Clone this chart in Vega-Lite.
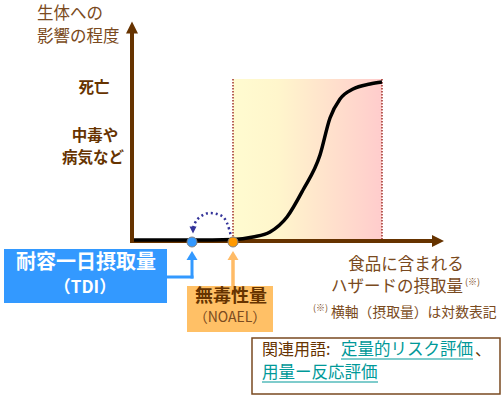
{
  "$schema": "https://vega.github.io/schema/vega-lite/v6.json",
  "width": 501,
  "height": 397,
  "padding": 0,
  "autosize": {"type": "none"},
  "background": "white",
  "config": {"view": {"stroke": null}, "font": "Noto Sans CJK JP"},
  "layer": [
    {
      "data": {"values": [{"x": 233, "x2": 382, "y": 79, "y2": 241}]},
      "mark": {"type": "rect", "fill": {"gradient": "linear", "x1": 0, "y1": 0, "x2": 1, "y2": 0, "stops": [{"offset": 0, "color": "#fffbd0"}, {"offset": 0.3, "color": "#fff6cc"}, {"offset": 1, "color": "#ffcccc"}]}},
      "encoding": {
        "x": {"field": "x", "type": "quantitative", "scale": {"domain": [0, 501], "nice": false, "zero": false}, "axis": null},
        "x2": {"field": "x2"},
        "y": {"field": "y", "type": "quantitative", "scale": {"domain": [0, 397], "nice": false, "zero": false, "reverse": true}, "axis": null},
        "y2": {"field": "y2"}
      }
    },
    {
      "data": {"values": [{"x": 233, "y": 79, "y2": 241}, {"x": 382, "y": 79, "y2": 241}]},
      "mark": {"type": "rule", "color": "#a0302a", "strokeWidth": 1.5, "strokeDash": [1.5, 1.5]},
      "encoding": {"x": {"field": "x", "type": "quantitative"}, "y": {"field": "y", "type": "quantitative"}, "y2": {"field": "y2"}}
    },
    {
      "data": {"values": [{"x": 132, "x2": 132, "y": 32, "y2": 243}, {"x": 130, "x2": 434, "y": 241, "y2": 241}]},
      "mark": {"type": "rule", "color": "#663300", "strokeWidth": 4},
      "encoding": {"x": {"field": "x", "type": "quantitative"}, "x2": {"field": "x2"}, "y": {"field": "y", "type": "quantitative"}, "y2": {"field": "y2"}}
    },
    {
      "data": {"values": [{"x": 132, "y": 27.5}]},
      "mark": {"type": "point", "shape": "M -1 1 L 1 1 L 0 -1 Z", "size": 144, "filled": true, "color": "#663300", "opacity": 1},
      "encoding": {"x": {"field": "x", "type": "quantitative"}, "y": {"field": "y", "type": "quantitative"}}
    },
    {
      "data": {"values": [{"x": 438, "y": 241}]},
      "mark": {"type": "point", "shape": "M -1 -1 L 1 0 L -1 1 Z", "size": 144, "filled": true, "color": "#663300", "opacity": 1},
      "encoding": {"x": {"field": "x", "type": "quantitative"}, "y": {"field": "y", "type": "quantitative"}}
    },
    {
      "data": {"values": [
        {"x": 134, "y": 240}, {"x": 192, "y": 240}, {"x": 233, "y": 239.5}, {"x": 253, "y": 237}, {"x": 270, "y": 232},
        {"x": 287, "y": 217}, {"x": 303, "y": 190}, {"x": 320, "y": 155}, {"x": 330, "y": 118}, {"x": 340, "y": 99},
        {"x": 353, "y": 89}, {"x": 370, "y": 84}, {"x": 382, "y": 82}
      ]},
      "mark": {"type": "line", "color": "black", "strokeWidth": 3.5, "interpolate": "monotone"},
      "encoding": {"x": {"field": "x", "type": "quantitative"}, "y": {"field": "y", "type": "quantitative"}}
    },
    {
      "data": {"values": [
        {"x": 193, "y": 228}, {"x": 195, "y": 223}, {"x": 200, "y": 217}, {"x": 210, "y": 213}, {"x": 220, "y": 215}, {"x": 227, "y": 223}, {"x": 231, "y": 236}
      ]},
      "mark": {"type": "line", "color": "#333399", "strokeWidth": 2.5, "strokeDash": [2, 3], "interpolate": "monotone"},
      "encoding": {"x": {"field": "x", "type": "quantitative"}, "y": {"field": "y", "type": "quantitative"}}
    },
    {
      "data": {"values": [{"x": 193, "y": 230}]},
      "mark": {"type": "point", "shape": "M -1 -1 L 1 -1 L 0 1 Z", "size": 49, "filled": true, "color": "#333399", "opacity": 1},
      "encoding": {"x": {"field": "x", "type": "quantitative"}, "y": {"field": "y", "type": "quantitative"}}
    },
    {
      "data": {"values": [{"x": 166, "x2": 192, "y": 277, "y2": 277}, {"x": 192, "x2": 192, "y": 277, "y2": 258}]},
      "mark": {"type": "rule", "color": "#3399ff", "strokeWidth": 3, "strokeCap": "square"},
      "encoding": {"x": {"field": "x", "type": "quantitative"}, "x2": {"field": "x2"}, "y": {"field": "y", "type": "quantitative"}, "y2": {"field": "y2"}}
    },
    {
      "data": {"values": [{"x": 233, "x2": 233, "y": 287, "y2": 258}]},
      "mark": {"type": "rule", "color": "#ffbb66", "strokeWidth": 3.5},
      "encoding": {"x": {"field": "x", "type": "quantitative"}, "x2": {"field": "x2"}, "y": {"field": "y", "type": "quantitative"}, "y2": {"field": "y2"}}
    },
    {
      "data": {"values": [{"x": 192, "y": 255.5}]},
      "mark": {"type": "point", "shape": "M -1 0.8 L 1 0.8 L 0 -0.8 Z", "size": 121, "filled": true, "color": "#3399ff", "opacity": 1},
      "encoding": {"x": {"field": "x", "type": "quantitative"}, "y": {"field": "y", "type": "quantitative"}}
    },
    {
      "data": {"values": [{"x": 233, "y": 255.5}]},
      "mark": {"type": "point", "shape": "M -1 0.8 L 1 0.8 L 0 -0.8 Z", "size": 121, "filled": true, "color": "#ffbb66", "opacity": 1},
      "encoding": {"x": {"field": "x", "type": "quantitative"}, "y": {"field": "y", "type": "quantitative"}}
    },
    {
      "data": {"values": [{"x": 192, "y": 242}]},
      "mark": {"type": "point", "shape": "circle", "size": 100, "filled": true, "fill": "#3399ff", "stroke": "#7f7f7f", "strokeWidth": 1, "opacity": 1},
      "encoding": {"x": {"field": "x", "type": "quantitative"}, "y": {"field": "y", "type": "quantitative"}}
    },
    {
      "data": {"values": [{"x": 233, "y": 242}]},
      "mark": {"type": "point", "shape": "circle", "size": 100, "filled": true, "fill": "#ff9900", "stroke": "#7f7f7f", "strokeWidth": 1, "opacity": 1},
      "encoding": {"x": {"field": "x", "type": "quantitative"}, "y": {"field": "y", "type": "quantitative"}}
    },
    {
      "data": {"values": [{"x": 4, "x2": 167, "y": 249, "y2": 303}]},
      "mark": {"type": "rect", "fill": "#3399ff"},
      "encoding": {"x": {"field": "x", "type": "quantitative"}, "x2": {"field": "x2"}, "y": {"field": "y", "type": "quantitative"}, "y2": {"field": "y2"}}
    },
    {
      "data": {"values": [{"x": 187, "x2": 273, "y": 286, "y2": 332}]},
      "mark": {"type": "rect", "fill": "#ffc066"},
      "encoding": {"x": {"field": "x", "type": "quantitative"}, "x2": {"field": "x2"}, "y": {"field": "y", "type": "quantitative"}, "y2": {"field": "y2"}}
    },
    {
      "data": {"values": [{"x": 252, "x2": 500, "y": 338, "y2": 394}]},
      "mark": {"type": "rect", "fill": "white", "stroke": "#7a4a20", "strokeWidth": 1.5},
      "encoding": {"x": {"field": "x", "type": "quantitative"}, "x2": {"field": "x2"}, "y": {"field": "y", "type": "quantitative"}, "y2": {"field": "y2"}}
    },
    {
      "data": {"values": [{"x": 37, "y": 14, "t": "生体への"}, {"x": 37, "y": 37, "t": "影響の程度"}]},
      "mark": {"type": "text", "align": "left", "baseline": "middle", "fontSize": 16.5, "color": "#7a4a20"},
      "encoding": {"x": {"field": "x", "type": "quantitative"}, "y": {"field": "y", "type": "quantitative"}, "text": {"field": "t"}}
    },
    {
      "data": {"values": [{"x": 94, "y": 88, "t": "死亡"}, {"x": 95, "y": 136, "t": "中毒や"}, {"x": 93, "y": 158, "t": "病気など"}]},
      "mark": {"type": "text", "align": "center", "baseline": "middle", "fontSize": 15.5, "fontWeight": "bold", "color": "#663300"},
      "encoding": {"x": {"field": "x", "type": "quantitative"}, "y": {"field": "y", "type": "quantitative"}, "text": {"field": "t"}}
    },
    {
      "data": {"values": [{"x": 406, "y": 265, "t": "食品に含まれる"}, {"x": 397, "y": 287, "t": "ハザードの摂取量"}]},
      "mark": {"type": "text", "align": "center", "baseline": "middle", "fontSize": 16.5, "color": "#7a4a20"},
      "encoding": {"x": {"field": "x", "type": "quantitative"}, "y": {"field": "y", "type": "quantitative"}, "text": {"field": "t"}}
    },
    {
      "data": {"values": [{"x": 465, "y": 282, "t": "(※)"}, {"x": 313, "y": 308, "t": "(※)"}]},
      "mark": {"type": "text", "align": "left", "baseline": "middle", "fontSize": 9, "color": "#7a4a20"},
      "encoding": {"x": {"field": "x", "type": "quantitative"}, "y": {"field": "y", "type": "quantitative"}, "text": {"field": "t"}}
    },
    {
      "data": {"values": [{"x": 331, "y": 313, "t": "横軸（摂取量）は対数表記"}]},
      "mark": {"type": "text", "align": "left", "baseline": "middle", "fontSize": 13.8, "color": "#7a4a20"},
      "encoding": {"x": {"field": "x", "type": "quantitative"}, "y": {"field": "y", "type": "quantitative"}, "text": {"field": "t"}}
    },
    {
      "data": {"values": [{"x": 86, "y": 263, "t": "耐容一日摂取量"}]},
      "mark": {"type": "text", "align": "center", "baseline": "middle", "fontSize": 20, "fontWeight": "bold", "color": "white"},
      "encoding": {"x": {"field": "x", "type": "quantitative"}, "y": {"field": "y", "type": "quantitative"}, "text": {"field": "t"}}
    },
    {
      "data": {"values": [{"x": 85, "y": 288, "t": "（TDI）"}]},
      "mark": {"type": "text", "align": "center", "baseline": "middle", "fontSize": 17, "fontWeight": "bold", "color": "white"},
      "encoding": {"x": {"field": "x", "type": "quantitative"}, "y": {"field": "y", "type": "quantitative"}, "text": {"field": "t"}}
    },
    {
      "data": {"values": [{"x": 231, "y": 297, "t": "無毒性量"}]},
      "mark": {"type": "text", "align": "center", "baseline": "middle", "fontSize": 18, "fontWeight": "bold", "color": "#663300"},
      "encoding": {"x": {"field": "x", "type": "quantitative"}, "y": {"field": "y", "type": "quantitative"}, "text": {"field": "t"}}
    },
    {
      "data": {"values": [{"x": 230, "y": 318, "t": "（NOAEL）"}]},
      "mark": {"type": "text", "align": "center", "baseline": "middle", "fontSize": 14, "color": "#7a4a20"},
      "encoding": {"x": {"field": "x", "type": "quantitative"}, "y": {"field": "y", "type": "quantitative"}, "text": {"field": "t"}}
    },
    {
      "data": {"values": [{"x": 262, "y": 350, "t": "関連用語:"}, {"x": 475, "y": 350, "t": "、"}]},
      "mark": {"type": "text", "align": "left", "baseline": "middle", "fontSize": 16, "color": "#663300"},
      "encoding": {"x": {"field": "x", "type": "quantitative"}, "y": {"field": "y", "type": "quantitative"}, "text": {"field": "t"}}
    },
    {
      "data": {"values": [{"x": 341, "y": 350, "t": "定量的リスク評価"}]},
      "mark": {"type": "text", "align": "left", "baseline": "middle", "fontSize": 16.5, "color": "#009999"},
      "encoding": {"x": {"field": "x", "type": "quantitative"}, "y": {"field": "y", "type": "quantitative"}, "text": {"field": "t"}}
    },
    {
      "data": {"values": [{"x": 262, "y": 373, "t": "用量ー反応評価"}]},
      "mark": {"type": "text", "align": "left", "baseline": "middle", "fontSize": 16.5, "color": "#009999"},
      "encoding": {"x": {"field": "x", "type": "quantitative"}, "y": {"field": "y", "type": "quantitative"}, "text": {"field": "t"}}
    },
    {
      "data": {"values": [{"x": 341, "x2": 473, "y": 359}, {"x": 262, "x2": 378, "y": 382}]},
      "mark": {"type": "rule", "color": "#009999", "strokeWidth": 1.2},
      "encoding": {"x": {"field": "x", "type": "quantitative"}, "x2": {"field": "x2"}, "y": {"field": "y", "type": "quantitative"}}
    }
  ]
}
